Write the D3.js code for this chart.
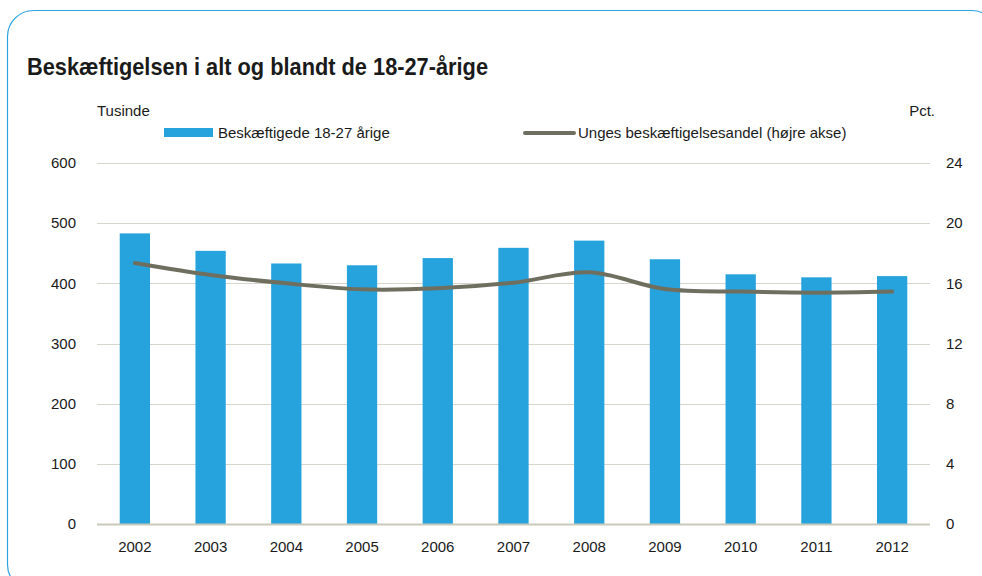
<!DOCTYPE html>
<html>
<head>
<meta charset="utf-8">
<script src="https://cdn.jsdelivr.net/npm/d3@7"></script>
<style>
  body { margin: 0; background: #fff; }
  svg text { font-family: "Liberation Sans", Arial, sans-serif; fill: #1a1a1a; }
</style>
</head>
<body>
<script>
// data
var years = ["2002", "2003", "2004", "2005", "2006", "2007", "2008", "2009", "2010", "2011", "2012"];
var employed = [483, 454, 433, 430, 442, 459, 471, 440, 415, 410, 412];      // tusinde
var share = [17.35, 16.55, 16.0, 15.6, 15.67, 16.04, 16.73, 15.62, 15.45, 15.38, 15.45]; // pct.
var leftTicks = [0, 100, 200, 300, 400, 500, 600];
var rightTicks = [0, 4, 8, 12, 16, 20, 24];

var W = 982, H = 576;
var margin = {top: 163, right: 52, bottom: 52, left: 97};
var width = W - margin.left - margin.right;
var height = H - margin.top - margin.bottom;

var svg = d3.select("body").append("svg")
  .attr("width", W)
  .attr("height", H);

// rounded frame
svg.append("rect")
  .attr("x", 7.5).attr("y", 10.5)
  .attr("width", 990).attr("height", 580)
  .attr("rx", 26).attr("ry", 26)
  .attr("fill", "none")
  .attr("stroke", "#29a3e0")
  .attr("stroke-width", 1.2);

svg.append("text")
  .attr("x", 27).attr("y", 75)
  .attr("font-size", 24)
  .attr("font-weight", "bold")
  .attr("textLength", 461)
  .attr("lengthAdjust", "spacingAndGlyphs")
  .text("Beskæftigelsen i alt og blandt de 18-27-årige");

var g = svg.append("g")
  .attr("transform", "translate(" + margin.left + "," + margin.top + ")");

var xScale = d3.scaleBand()
  .domain(years)
  .range([0, width])
  .paddingInner(0.6)
  .paddingOuter(0.3);

var yLeft = d3.scaleLinear().domain([0, 600]).range([height, 0]);
var yRight = d3.scaleLinear().domain([0, 24]).range([height, 0]);

// grid
g.selectAll("line.grid")
  .data(leftTicks.slice(1))
  .enter().append("line")
  .attr("class", "grid")
  .attr("x1", 0).attr("x2", width)
  .attr("y1", function(d) { return Math.round(yLeft(d)) + 0.5; })
  .attr("y2", function(d) { return Math.round(yLeft(d)) + 0.5; })
  .attr("stroke", "#d6d6cc")
  .attr("stroke-width", 1);

// bars
g.selectAll("rect.bar")
  .data(employed)
  .enter().append("rect")
  .attr("class", "bar")
  .attr("x", function(d, i) { return xScale(years[i]); })
  .attr("y", function(d) { return yLeft(d); })
  .attr("width", xScale.bandwidth())
  .attr("height", function(d) { return height - yLeft(d); })
  .attr("fill", "#26a3dd");

// baseline
g.append("line")
  .attr("x1", 0).attr("x2", width)
  .attr("y1", height + 0.5).attr("y2", height + 0.5)
  .attr("stroke", "#c9c9bb")
  .attr("stroke-width", 2);

// share line
var line = d3.line()
  .x(function(d, i) { return xScale(years[i]) + xScale.bandwidth() / 2; })
  .y(function(d) { return yRight(d); })
  .curve(d3.curveCatmullRom.alpha(0.5));

g.append("path")
  .datum(share)
  .attr("d", line)
  .attr("fill", "none")
  .attr("stroke", "#6f6f60")
  .attr("stroke-width", 4)
  .attr("stroke-linecap", "round")
  .attr("stroke-linejoin", "round");

// axes
var leftAxis = d3.axisLeft(yLeft).tickValues(leftTicks).tickSize(0).tickPadding(21);
var rightAxis = d3.axisRight(yRight).tickValues(rightTicks).tickSize(0).tickPadding(16);
var bottomAxis = d3.axisBottom(xScale).tickSize(0).tickPadding(17);

function styleAxis(sel) {
  sel.select(".domain").remove();
  sel.selectAll("text")
    .attr("font-size", 15)
    .attr("fill", "#1a1a1a");
}

g.append("g").call(leftAxis).call(styleAxis);
g.append("g").attr("transform", "translate(" + width + ",0)").call(rightAxis).call(styleAxis);
g.append("g").attr("transform", "translate(0," + height + ")").call(bottomAxis).call(styleAxis);

// unit labels
svg.append("text").attr("x", 97).attr("y", 116).attr("font-size", 15).text("Tusinde");
svg.append("text").attr("x", 935).attr("y", 116).attr("font-size", 15)
  .attr("text-anchor", "end").text("Pct.");

// legend
var legend = svg.append("g");
legend.append("rect")
  .attr("x", 164).attr("y", 128)
  .attr("width", 49).attr("height", 9)
  .attr("fill", "#26a3dd");
legend.append("text").attr("x", 218).attr("y", 138).attr("font-size", 15)
  .text("Beskæftigede 18-27 årige");
legend.append("line")
  .attr("x1", 525).attr("x2", 574)
  .attr("y1", 133).attr("y2", 133)
  .attr("stroke", "#6f6f60")
  .attr("stroke-width", 4)
  .attr("stroke-linecap", "round");
legend.append("text").attr("x", 578).attr("y", 138).attr("font-size", 15)
  .text("Unges beskæftigelsesandel (højre akse)");
</script>
</body>
</html>
